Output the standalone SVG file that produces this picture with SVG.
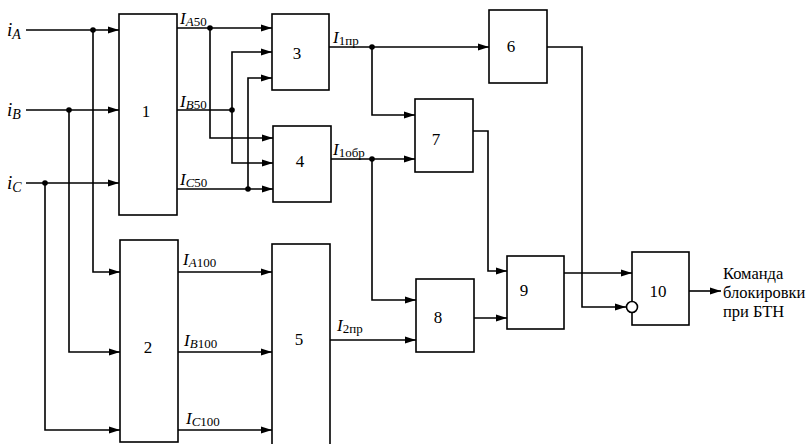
<svg xmlns="http://www.w3.org/2000/svg" width="810" height="444" viewBox="0 0 810 444" font-family="Liberation Serif, serif">
<style>
.blk{fill:#fff;stroke:#000;stroke-width:1.6}
.w{fill:none;stroke:#000;stroke-width:1.6}
.dot{fill:#000}
</style>
<defs>
<marker id="ar" markerWidth="12" markerHeight="8" refX="11" refY="4" orient="auto" markerUnits="userSpaceOnUse">
<path d="M0,0.5 L11,4 L0,7.5 Z" fill="#000"/>
</marker>
</defs>
<g id="connectors">
<path class="w" d="M26,30 H119" marker-end="url(#ar)"/>
<path class="w" d="M93,30 V272 H120" marker-end="url(#ar)"/>
<path class="w" d="M26,110 H119" marker-end="url(#ar)"/>
<path class="w" d="M69,110 V352 H120" marker-end="url(#ar)"/>
<path class="w" d="M26,183 H119" marker-end="url(#ar)"/>
<path class="w" d="M45,183 V430 H120" marker-end="url(#ar)"/>
<path class="w" d="M177,28 H272" marker-end="url(#ar)"/>
<path class="w" d="M210,28 V138 H273" marker-end="url(#ar)"/>
<path class="w" d="M177,110 H232"/>
<path class="w" d="M232,110 V52 H272" marker-end="url(#ar)"/>
<path class="w" d="M232,110 V163 H273" marker-end="url(#ar)"/>
<path class="w" d="M177,189 H273" marker-end="url(#ar)"/>
<path class="w" d="M248,189 V78 H272" marker-end="url(#ar)"/>
<path class="w" d="M329,47 H489" marker-end="url(#ar)"/>
<path class="w" d="M372,47 V115 H415" marker-end="url(#ar)"/>
<path class="w" d="M331,159 H415" marker-end="url(#ar)"/>
<path class="w" d="M372,159 V300 H416" marker-end="url(#ar)"/>
<path class="w" d="M178,272 H272" marker-end="url(#ar)"/>
<path class="w" d="M178,352 H272" marker-end="url(#ar)"/>
<path class="w" d="M178,430 H272" marker-end="url(#ar)"/>
<path class="w" d="M330,340 H416" marker-end="url(#ar)"/>
<path class="w" d="M547,47 H582 V307 H626" marker-end="url(#ar)"/>
<path class="w" d="M473,131 H488 V271 H507" marker-end="url(#ar)"/>
<path class="w" d="M474,318 H507" marker-end="url(#ar)"/>
<path class="w" d="M564,273 H632" marker-end="url(#ar)"/>
<path class="w" d="M689,291 H721" marker-end="url(#ar)"/>
<circle class="dot" cx="93" cy="30" r="2.8"/>
<circle class="dot" cx="69" cy="110" r="2.8"/>
<circle class="dot" cx="45" cy="183" r="2.8"/>
<circle class="dot" cx="210" cy="28" r="2.8"/>
<circle class="dot" cx="232" cy="110" r="2.8"/>
<circle class="dot" cx="248" cy="189" r="2.8"/>
<circle class="dot" cx="372" cy="47" r="2.8"/>
<circle class="dot" cx="372" cy="159" r="2.8"/>
</g>
<g id="inputs" font-size="19" font-style="italic">
<text x="7" y="36">i<tspan font-size="14" dy="3">A</tspan></text>
<text x="7" y="116">i<tspan font-size="14" dy="3">B</tspan></text>
<text x="7" y="189">i<tspan font-size="14" dy="3">C</tspan></text>
</g>
<g id="labels" font-size="17" font-style="italic">
<text x="180" y="24">I<tspan font-size="13" dy="2">A</tspan><tspan font-size="13" font-style="normal">50</tspan></text>
<text x="180" y="107">I<tspan font-size="13" dy="2">B</tspan><tspan font-size="13" font-style="normal">50</tspan></text>
<text x="180" y="185">I<tspan font-size="13" dy="2">C</tspan><tspan font-size="13" font-style="normal">50</tspan></text>
<text x="333" y="43">I<tspan font-size="13" font-style="normal" dy="2">1пр</tspan></text>
<text x="333" y="155">I<tspan font-size="13" font-style="normal" dy="2">1обр</tspan></text>
<text x="183" y="265">I<tspan font-size="13" dy="2">A</tspan><tspan font-size="13" font-style="normal">100</tspan></text>
<text x="184" y="346">I<tspan font-size="13" dy="2">B</tspan><tspan font-size="13" font-style="normal">100</tspan></text>
<text x="186" y="424">I<tspan font-size="13" dy="2">C</tspan><tspan font-size="13" font-style="normal">100</tspan></text>
<text x="337" y="331">I<tspan font-size="13" font-style="normal" dy="2">2пр</tspan></text>
</g>
<g font-size="17" text-anchor="middle">
<g id="n1"><rect class="blk" x="119" y="14" width="58" height="201"/><text x="146" y="117">1</text></g>
<g id="n2"><rect class="blk" x="120" y="240" width="58" height="202"/><text x="148" y="353">2</text></g>
<g id="n3"><rect class="blk" x="272" y="14" width="57" height="76"/><text x="297" y="59">3</text></g>
<g id="n4"><rect class="blk" x="273" y="126" width="58" height="76"/><text x="300" y="167">4</text></g>
<g id="n5"><rect class="blk" x="272" y="244" width="58" height="220"/><text x="299" y="345">5</text></g>
<g id="n6"><rect class="blk" x="489" y="10" width="58" height="73"/><text x="511" y="52">6</text></g>
<g id="n7"><rect class="blk" x="415" y="99" width="58" height="73"/><text x="436" y="145">7</text></g>
<g id="n8"><rect class="blk" x="416" y="279" width="58" height="73"/><text x="438" y="323">8</text></g>
<g id="n9"><rect class="blk" x="507" y="256" width="57" height="73"/><text x="524" y="296">9</text></g>
<g id="n10"><rect class="blk" x="632" y="252" width="57" height="73"/><circle cx="632" cy="307" r="5.5" fill="#fff" stroke="#000" stroke-width="1.6"/><text x="658" y="297">10</text></g>
</g>
<g id="output" font-size="16.5">
<text x="723" y="279">Команда</text>
<text x="723" y="298">блокировки</text>
<text x="723" y="317">при БТН</text>
</g>
</svg>
